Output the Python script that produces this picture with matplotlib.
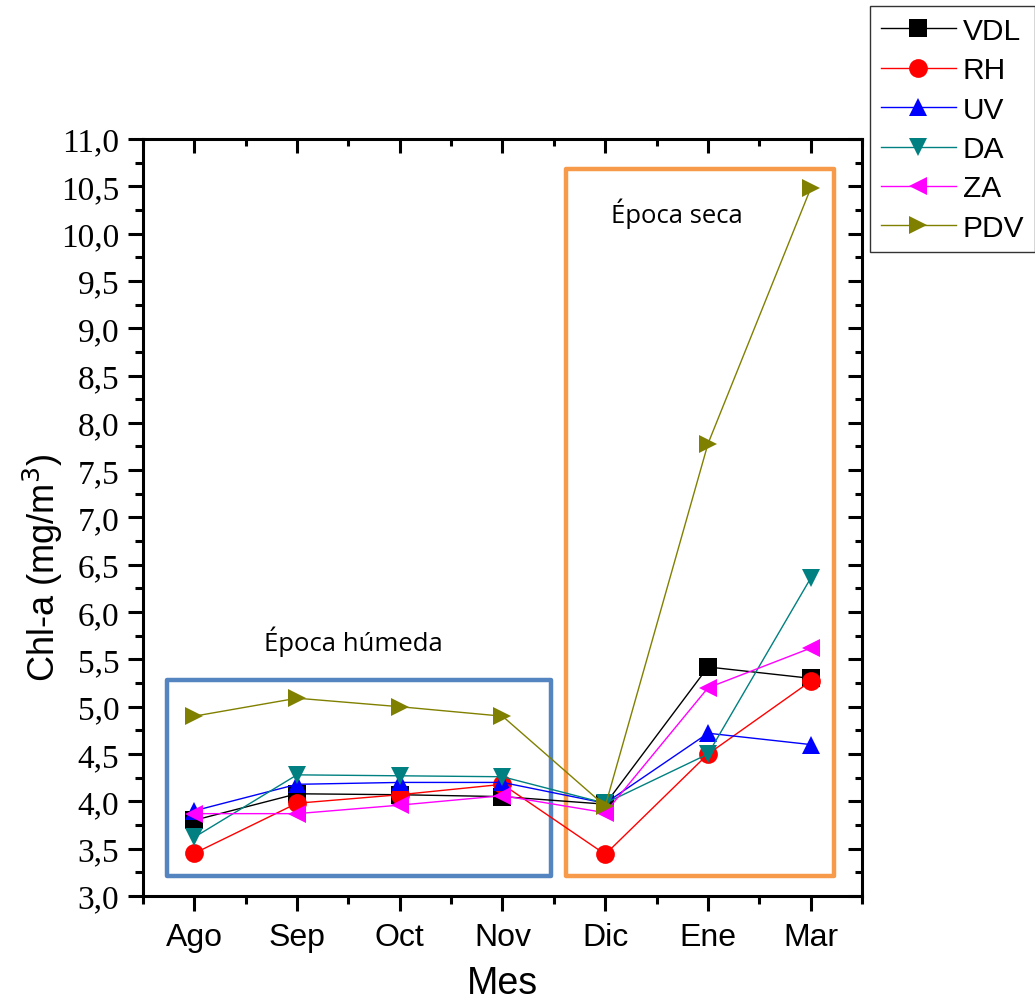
import matplotlib
matplotlib.use("Agg")
import matplotlib.pyplot as plt
from matplotlib.patches import Rectangle
from matplotlib.ticker import MultipleLocator, FixedLocator

months = ["Ago", "Sep", "Oct", "Nov", "Dic", "Ene", "Mar"]
VDL = [3.80, 4.08, 4.07, 4.05, 3.97, 5.42, 5.30]
RH = [3.45, 3.98, 4.07, 4.18, 3.44, 4.50, 5.27]
UV = [3.90, 4.18, 4.20, 4.20, 3.98, 4.72, 4.60]
DA = [3.62, 4.28, 4.27, 4.26, 3.98, 4.50, 6.36]
ZA = [3.87, 3.87, 3.96, 4.06, 3.88, 5.20, 5.62]
PDV = [4.90, 5.09, 5.00, 4.90, 3.95, 7.78, 10.48]

series = [
    ("VDL", VDL, "black", "s"),
    ("RH", RH, "red", "o"),
    ("UV", UV, "blue", "^"),
    ("DA", DA, "#008080", "v"),
    ("ZA", ZA, "magenta", "<"),
    ("PDV", PDV, "#808000", ">"),
]

fig = plt.figure(figsize=(10.35, 10.04), dpi=100)
ax = fig.add_axes([0.138, 0.1066, 0.695, 0.7540])

x = list(range(len(months)))
for name, vals, col, mk in series:
    ax.plot(x, vals, color=col, marker=mk, markersize=13.5, linewidth=1.0,
            label=name, markeredgewidth=0)

ax.set_xlim(-0.5, 6.5)
ax.set_ylim(3.0, 11.0)
ax.xaxis.set_major_locator(FixedLocator(x))
ax.set_xticklabels(months, fontsize=23, family="Liberation Sans")
ax.xaxis.set_minor_locator(FixedLocator([i - 0.5 for i in range(8)]))
ax.yaxis.set_minor_locator(MultipleLocator(0.25))
ax.set_yticks([3.0 + 0.5 * i for i in range(17)])
ax.set_yticklabels([f"{3.0 + 0.5 * i:.1f}".replace(".", ",") for i in range(17)],
                   fontsize=24, family="Liberation Serif")

for sp in ax.spines.values():
    sp.set_linewidth(2.2)

ax.tick_params(axis="both", which="major", direction="out", length=11, width=2.2,
               top=False, right=False)
ax.tick_params(axis="both", which="minor", direction="out", length=6, width=2.2,
               top=False, right=False)
ax.tick_params(axis="x", which="major", pad=8)
ax.tick_params(axis="y", which="major", pad=6)

# mirrored inward ticks on top and right
axt = ax.twiny()
axt.set_xlim(ax.get_xlim())
axt.xaxis.set_major_locator(FixedLocator(x))
axt.xaxis.set_minor_locator(FixedLocator([i - 0.5 for i in range(8)]))
axt.tick_params(axis="x", which="major", direction="in", length=10, width=2.2, labeltop=False)
axt.tick_params(axis="x", which="minor", direction="in", length=5, width=2.2)
axr = ax.twinx()
axr.set_ylim(ax.get_ylim())
axr.yaxis.set_major_locator(MultipleLocator(0.5))
axr.yaxis.set_minor_locator(MultipleLocator(0.25))
axr.tick_params(axis="y", which="major", direction="in", length=10, width=2.2, labelright=False)
axr.tick_params(axis="y", which="minor", direction="in", length=5, width=2.2)
for a in (axt, axr):
    for sp in a.spines.values():
        sp.set_visible(False)

ax.set_ylabel("Chl-a (mg/m$^3$)", fontsize=26, family="Liberation Sans")
ax.yaxis.set_label_coords(-0.108, 0.435)
ax.set_xlabel("Mes", fontsize=27, family="Liberation Sans", labelpad=9)

# season boxes
ax.add_patch(Rectangle((-0.26, 3.21), 3.73, 2.07, fill=False, edgecolor="#5585c0",
                       linewidth=3.2, joinstyle="round", zorder=1, clip_on=False))
ax.add_patch(Rectangle((3.62, 3.21), 2.61, 7.47, fill=False, edgecolor="#f79a4a",
                       linewidth=3.2, joinstyle="round", zorder=1, clip_on=False))
ax.text(1.55, 5.7, "Época húmeda", fontsize=18.5, family="Open Sans", ha="center", va="center")
ax.text(4.7, 10.22, "Época seca", fontsize=18.5, family="Open Sans", ha="center", va="center")

leg = ax.legend(loc="upper left", bbox_to_anchor=(1.0115, 1.175),
                prop={"family": "Liberation Sans", "size": 21.5},
                frameon=True, fancybox=False, edgecolor="black", markerscale=1.0,
                handlelength=2.5, labelspacing=0.38, borderpad=0.35, handletextpad=0.25,
                borderaxespad=0)
leg.get_frame().set_linewidth(1.0)

fig.savefig("out.png", dpi=100)
